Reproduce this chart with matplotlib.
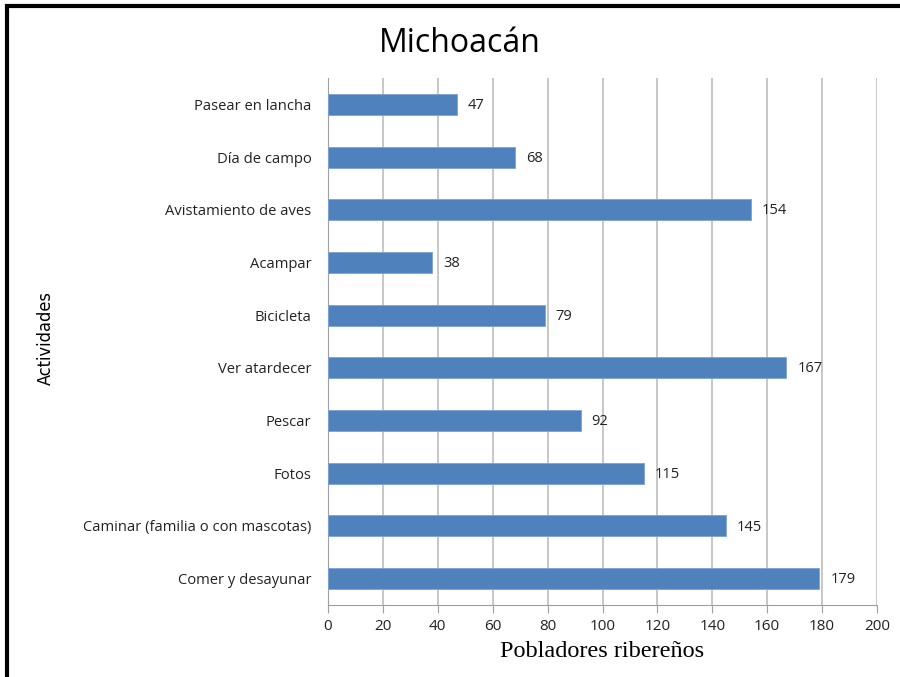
import matplotlib
matplotlib.use("Agg")
import matplotlib.pyplot as plt
from matplotlib.patches import Rectangle

categories = ["Pasear en lancha", "Día de campo", "Avistamiento de aves", "Acampar",
              "Bicicleta", "Ver atardecer", "Pescar", "Fotos",
              "Caminar (familia o con mascotas)", "Comer y desayunar"]
values = [47, 68, 154, 38, 79, 167, 92, 115, 145, 179]
xticks = [0, 20, 40, 60, 80, 100, 120, 140, 160, 180, 200]

fig = plt.figure(figsize=(9, 6.77), dpi=100)
ax = fig.add_axes([328/900, 1-605/677, (877-328)/900, (605-78)/677])

ypos = list(range(len(categories)))[::-1]
ax.barh(ypos, values, height=0.4, color="#4F81BD", edgecolor="#7DA2D1", linewidth=0.6, zorder=3)
for y, v in zip(ypos, values):
    ax.text(v + 4, y - 0.02, str(v), va="center", ha="left", fontsize=10.5,
            family="Open Sans", color="#222222")

ax.set_xlim(0, 200)
ax.set_ylim(-0.5, len(categories) - 0.5)
ax.set_xticks(xticks)
ax.set_xticklabels([str(t) for t in xticks], family="Open Sans", fontsize=11, color="#222222")
ax.set_yticks(ypos)
ax.set_yticklabels(categories, family="Open Sans", fontsize=10.6, color="#222222")
ax.tick_params(axis="y", length=0, pad=12)
ax.tick_params(axis="x", length=6, color="#A0A0A0", pad=4, direction="out")
ax.grid(axis="x", color="#BEBEBE", linewidth=1.2, zorder=0)
for s in ["top", "right"]:
    ax.spines[s].set_visible(False)
ax.spines["left"].set_color("#A0A0A0")
ax.spines["bottom"].set_color("#A0A0A0")

ax.set_xlabel("Pobladores ribereños", family="Liberation Serif", fontsize=17.5, labelpad=5)
fig.text(46/900, 1-338/677, "Actividades", rotation=90, family="DejaVu Sans",
         stretch="condensed", fontsize=13, ha="center", va="center")
fig.text(460/900, 1-43/677, "Michoacán", family="Open Sans", fontsize=23,
         ha="center", va="center")

fig.add_artist(Rectangle((7/900, -0.05), 1.2, 1 - 6/677 + 0.05, transform=fig.transFigure,
                         fill=False, edgecolor="black", linewidth=3))

fig.savefig("out.png", dpi=100)
